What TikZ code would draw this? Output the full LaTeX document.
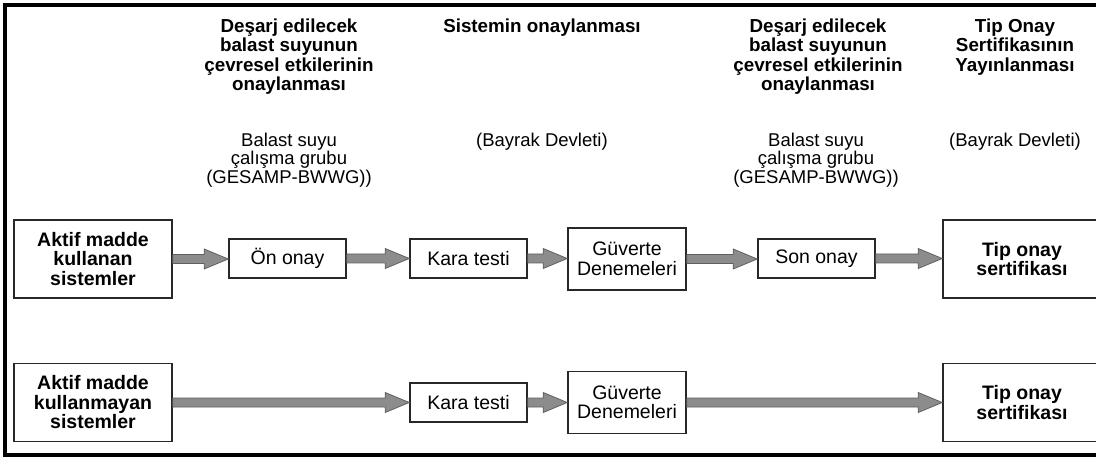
\documentclass[tikz,border=0pt]{standalone}
\usepackage{fontspec}
\setmainfont{Liberation Sans}
\usepackage{xcolor}
\usetikzlibrary{calc}
\definecolor{arrowfill}{RGB}{140,140,140}
\definecolor{arrowedge}{RGB}{95,95,95}
\definecolor{boxedge}{RGB}{40,40,40}

\begin{document}
\begin{tikzpicture}[x=1pt,y=-1pt,
  box/.style={draw=boxedge,line width=1.6pt,fill=white,inner sep=0pt,align=center,font=\fontsize{19.5}{19.5}\selectfont},
  bigbox/.style={box,minimum width=158pt,minimum height=78pt,font=\bfseries\fontsize{19.5}{19.5}\selectfont},
  smallbox/.style={box,minimum width=117pt,minimum height=39pt},
  trialbox/.style={box,minimum width=118pt,minimum height=62pt},
  head/.style={anchor=north,align=center,inner sep=0pt,font=\bfseries\fontsize{18.8}{19.5}\selectfont},
  note/.style={anchor=north,align=center,inner sep=0pt,font=\fontsize{18.5}{17}\selectfont},
  fatarrow/.style={draw=arrowedge,fill=arrowfill,line width=0.8pt,
    to path={let \p1=(\tikztostart), \p2=(\tikztotarget) in
      (\x1,\y1+4.5pt) -- (\x2-24pt,\y1+4.5pt) -- (\x2-24pt,\y1+10pt) -- (\x2,\y1)
      -- (\x2-24pt,\y1-10pt) -- (\x2-24pt,\y1-4.5pt) -- (\x1,\y1-4.5pt) -- cycle}}]
   \clip (0,0) rectangle (1096,457);
   \draw[line width=4pt] (5,5) rectangle (1110,455);

   \node[head] (onayA) at (289,18.6) {Deşarj edilecek\\balast suyunun\\çevresel etkilerinin\\onaylanması};
   \node[head] (sistem) at (542,18.6) {Sistemin onaylanması};
   \node[head] (onayB) at (818,18.6) {Deşarj edilecek\\balast suyunun\\çevresel etkilerinin\\onaylanması};
   \node[head] (yayin) at (1015,18.6) {Tip Onay\\Sertifikasının\\Yayınlanması};
   \node[note] (grupA) at (289,133) {Balast suyu\\çalışma grubu\\(GESAMP-BWWG))};
   \node[note] (bayrakA) at (542,133) {(Bayrak Devleti)};
   \node[note] (grupB) at (816,133) {Balast suyu\\çalışma grubu\\(GESAMP-BWWG))};
   \node[note] (bayrakB) at (1015,133) {(Bayrak Devleti)};

   \node[bigbox] (a1) at (93,259) {Aktif madde\\kullanan\\sistemler};
   \node[smallbox] (on) at (287.5,258.5) {Ön onay};
   \node[smallbox] (k1) at (468.5,258.5) {Kara testi};
   \node[trialbox] (g1) at (627,259) {Güverte\\Denemeleri};
   \node[smallbox] (s1) at (816.5,258.5) {Son onay};
   \node[bigbox] (t1) at (1022,259) {Tip onay\\sertifikası};
   \node[bigbox] (a2) at (93,402.5) {Aktif madde\\kullanmayan\\sistemler};
   \node[smallbox] (k2) at (468.5,402.5) {Kara testi};
   \node[trialbox] (g2) at (627,402.5) {Güverte\\Denemeleri};
   \node[bigbox] (t2) at (1022,402.5) {Tip onay\\sertifikası};

   \path[fatarrow] (a1.east) to (on.west);
   \path[fatarrow] (on.east) to (k1.west);
   \path[fatarrow] (k1.east) to (g1.west);
   \path[fatarrow] (g1.east) to (s1.west);
   \path[fatarrow] (s1.east) to (t1.west);
   \path[fatarrow] (a2.east) to (k2.west);
   \path[fatarrow] (k2.east) to (g2.west);
   \path[fatarrow] (g2.east) to (t2.west);
\end{tikzpicture}
\end{document}
